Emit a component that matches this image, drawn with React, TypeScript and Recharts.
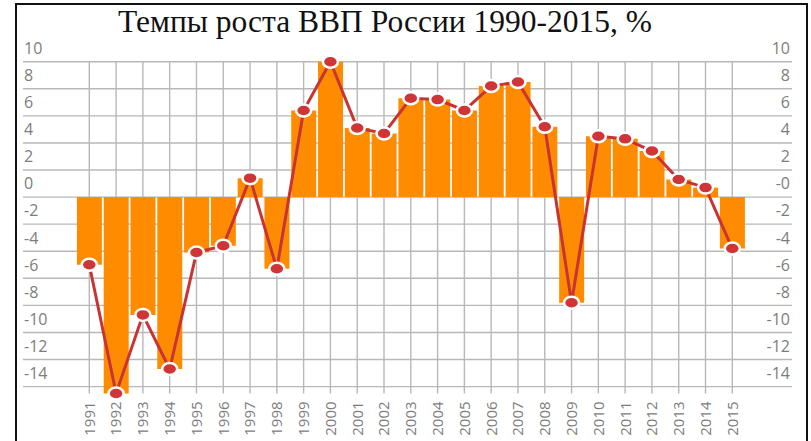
import React from 'react';
import { ComposedChart, Bar, Line, XAxis, YAxis, CartesianGrid } from 'recharts';

const title = 'Темпы роста ВВП России 1990-2015, %';

const years = [
  '1991', '1992', '1993', '1994', '1995', '1996', '1997', '1998', '1999', '2000',
  '2001', '2002', '2003', '2004', '2005', '2006', '2007', '2008', '2009', '2010',
  '2011', '2012', '2013', '2014', '2015',
];

const growth = [
  -5.0, -14.5, -8.7, -12.7, -4.1, -3.6, 1.4, -5.3, 6.4, 10.0,
  5.1, 4.7, 7.3, 7.2, 6.4, 8.2, 8.5, 5.2, -7.8, 4.5,
  4.3, 3.4, 1.3, 0.7, -3.8,
];

const yTicks = [-14, -12, -10, -8, -6, -4, -2, 0, 2, 4, 6, 8, 10];
const yDomain = [-14.5, 10];

const data = years.map((year, i) => ({ year, value: growth[i] }));

const labelFont = '"Open Sans", "Noto Sans", sans-serif';
const labelColor = '#7d7d7d';

function YTick(props: any) {
  const { y, payload } = props;
  const v = payload.value as number;
  const ty = y - 13.5;
  return (
    <g>
      <text x={24} y={ty} dy="0.36em" textAnchor="start" fontSize={16} fontFamily={labelFont} fill={labelColor}>
        {String(v)}
      </text>
      <text x={790} y={ty} dy="0.36em" textAnchor="end" fontSize={16} fontFamily={labelFont} fill={labelColor}>
        {v === 0 ? '-0' : String(v)}
      </text>
    </g>
  );
}

function XTick(props: any) {
  const { x, y, payload } = props;
  const ty = y + 8;
  return (
    <text
      x={x}
      y={ty}
      dy="0.36em"
      textAnchor="end"
      transform={`rotate(-90, ${x}, ${ty})`}
      fontSize={15}
      fontFamily={labelFont}
      fill={labelColor}
    >
      {payload.value}
    </text>
  );
}

function Marker(props: any) {
  const { cx, cy, index } = props;
  if (cx == null || cy == null) return null;
  return (
    <ellipse key={`m-${index}`} cx={cx} cy={cy} rx={7.5} ry={6} fill="#cf3536" stroke="#ffffff" strokeWidth={2.5} />
  );
}

export default function App() {
  return (
    <div style={{ position: 'absolute', left: 0, top: 0, width: 811, height: 441, overflow: 'hidden', background: '#fff' }}>
      <div
        style={{
          position: 'absolute',
          left: 15,
          top: 3,
          width: 789,
          height: 460,
          border: '2px solid #111',
        }}
      />
      <div
        style={{
          position: 'absolute',
          left: 0,
          top: 3,
          width: 770,
          textAlign: 'center',
          fontFamily: '"Liberation Serif", "Times New Roman", serif',
          fontSize: 31.5,
          lineHeight: '38px',
          color: '#111',
        }}
      >
        {title}
      </div>
      <div style={{ position: 'absolute', left: 0, top: 0 }}>
        <ComposedChart
          width={811}
          height={441}
          data={data}
          margin={{ top: 61.7, right: 19, bottom: 46.6, left: 22 }}
        >
          <CartesianGrid stroke="#b8b8b8" strokeWidth={1.4} syncWithTicks />
          <XAxis
            dataKey="year"
            height={1}
            padding={{ left: 52.9, right: 46.3 }}
            axisLine={false}
            tickLine={false}
            tickSize={0}
            tickMargin={0}
            interval={0}
            tick={<XTick />}
          />
          <YAxis
            width={1}
            domain={yDomain}
            ticks={yTicks}
            type="number"
            axisLine={false}
            tickLine={false}
            interval={0}
            tick={<YTick />}
          />
          <Bar dataKey="value" fill="#ff8c00" barSize={25} isAnimationActive={false} />
          <Line
            dataKey="value"
            stroke="#c83434"
            strokeWidth={3}
            dot={<Marker />}
            activeDot={false}
            isAnimationActive={false}
          />
        </ComposedChart>
      </div>
    </div>
  );
}
